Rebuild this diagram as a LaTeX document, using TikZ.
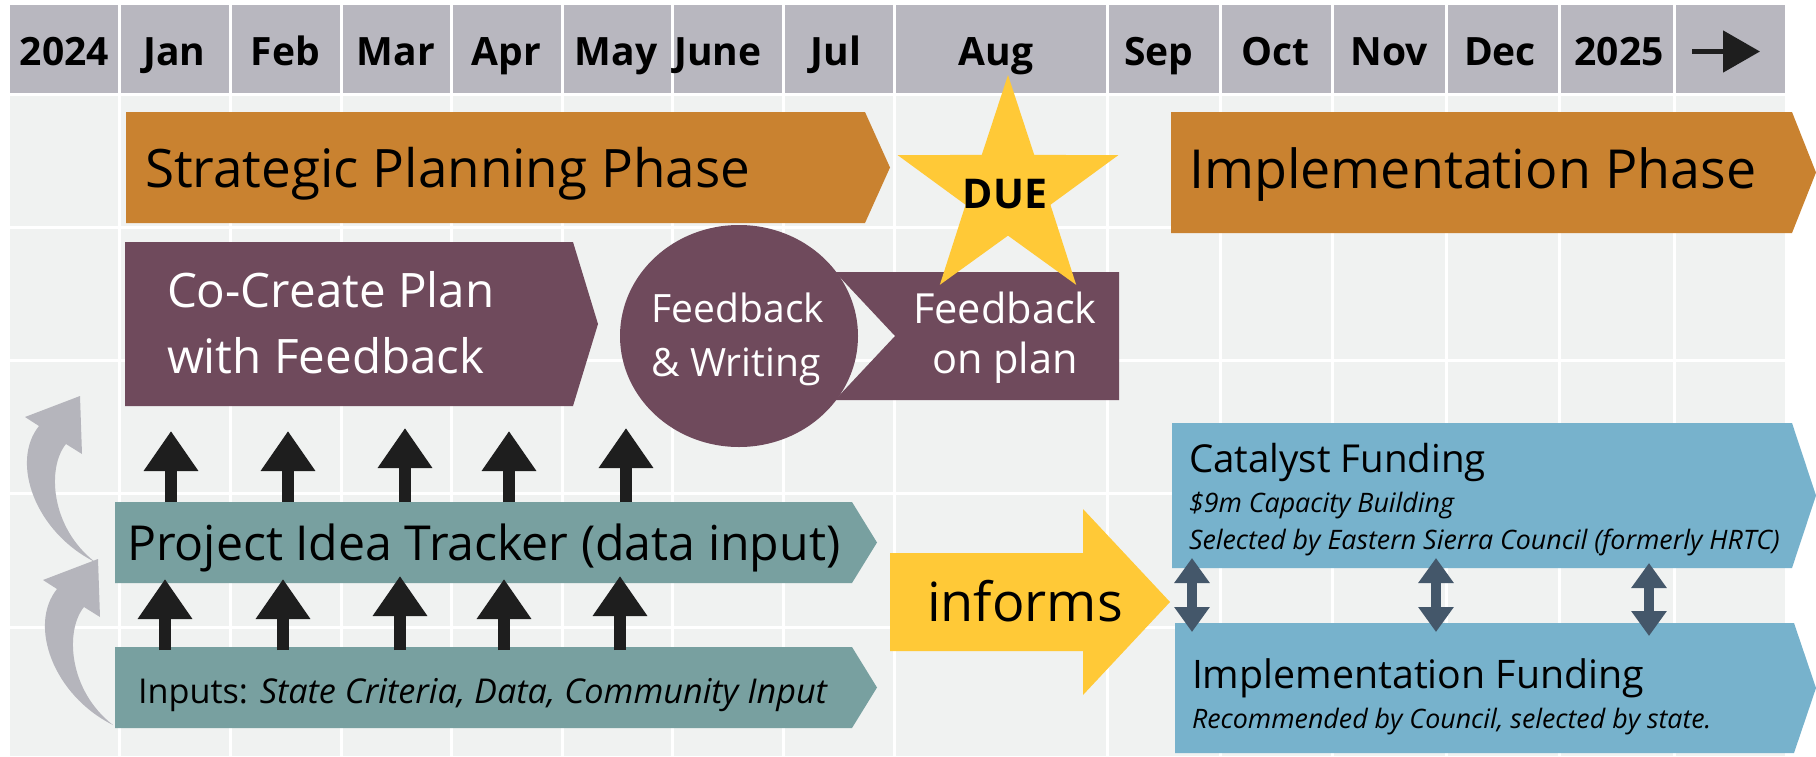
\documentclass[tikz,border=0pt]{standalone}
\usepackage{fontspec}
\setmainfont{Open Sans}
\usetikzlibrary{arrows.meta,shapes.geometric,calc}
\definecolor{gridc}{HTML}{F0F2F1}
\definecolor{headc}{HTML}{B8B7BF}
\definecolor{orangec}{HTML}{C98230}
\definecolor{purplec}{HTML}{6F4A5C}
\definecolor{tealc}{HTML}{78A0A0}
\definecolor{yellowc}{HTML}{FFC937}
\definecolor{bluec}{HTML}{77B2CC}
\definecolor{slatec}{HTML}{44576A}
\definecolor{grayc}{HTML}{B5B5BC}
\definecolor{blkc}{HTML}{1E1E1E}
\newcommand{\fs}[1]{\fontsize{#1}{#1}\selectfont}
\begin{document}
\begin{tikzpicture}[x=1pt,y=-1pt,
  lbl/.style={inner sep=0pt, outer sep=0pt, anchor=base west},
  hdr/.style={inner sep=0pt, anchor=base, font=\fs{39}\bfseries},
  boxn/.style={inner sep=0pt, outer sep=0pt, anchor=north west},
  uparr/.style={draw=blkc, line width=12pt, -{Triangle[width=52pt,length=40pt]}},
  dblarr/.style={draw=slatec, line width=10pt, {Triangle[width=34pt,length=25pt]}-{Triangle[width=34pt,length=25pt]}},
  curvy/.pic={\fill[grayc] (0,0) .. controls (-60,-30) and (-85,-100) .. (-56,-136) -- (-70,-145) -- (-15,-166) -- (-13,-108) -- (-29,-118) .. controls (-48,-95) and (-45,-35) .. (0,0) -- cycle;}
]
\useasboundingbox (0,0) rectangle (1816,756);
% grid background
\fill[gridc] (10,96) rectangle (1785,756);
\fill[headc] (10,5) rectangle (1785,93);
\foreach \x in {119,230,341,451,562,672,783,894,1107,1220,1332,1446,1559,1674}
  \draw[white, line width=3pt] (\x,5) -- (\x,756);
\foreach \y in {227,360,493,627}
  \draw[white, line width=3pt] (10,\y) -- (1785,\y);
% header labels
\node[hdr] (h2024) at (64.5,65) {2024};
\node[hdr] (hjan) at (174.5,65) {Jan};
\node[hdr] (hfeb) at (285.5,65) {Feb};
\node[hdr] (hmar) at (396,65) {Mar};
\node[hdr] (hapr) at (506.5,65) {Apr};
\node[hdr] (hmay) at (616,65) {May};
\node[hdr] (hjun) at (718,65) {June};
\node[hdr] (hjul) at (836,65) {Jul};
\node[hdr] (haug) at (996,65) {Aug};
\node[hdr] (hsep) at (1159,65) {Sep};
\node[hdr] (hoct) at (1275,65) {Oct};
\node[hdr] (hnov) at (1389,65) {Nov};
\node[hdr] (hdec) at (1500,65) {Dec};
\node[hdr] (h2025) at (1619,65) {2025};
\coordinate (harra) at (1692,51.5);
\coordinate (harrb) at (1760,51.5);
\draw[draw=blkc, line width=5pt, -{Triangle[width=41pt,length=37pt]}] (harra) -- (harrb);
% Strategic Planning Phase
\node[boxn, minimum width=739pt, minimum height=111pt] (spp) at (126,112) {};
\fill[orangec] (spp.north west) -- (spp.north east) -- ($(spp.east)+(25,0)$) -- (spp.south east) -- (spp.south west) -- cycle;
\node[lbl, font=\fs{53}] (sppt) at (145,187) {Strategic Planning Phase};
% Implementation Phase
\node[boxn, minimum width=621pt, minimum height=121pt] (ipp) at (1171,112) {};
\fill[orangec] (ipp.north west) -- (ipp.north east) -- ($(ipp.east)+(24,0)$) -- (ipp.south east) -- (ipp.south west) -- cycle;
\node[lbl, font=\fs{53.8}] (ippt) at (1189,188) {Implementation Phase};
% Co-Create
\node[boxn, minimum width=448pt, minimum height=164pt] (ccp) at (125,242) {};
\fill[purplec] (ccp.north west) -- (ccp.north east) -- ($(ccp.east)+(25,0)$) -- (ccp.south east) -- (ccp.south west) -- cycle;
\node[lbl, font=\fs{47.5}, text=white] (ccp1) at (167,307) {Co-Create Plan};
\node[lbl, font=\fs{47.5}, text=white] (ccp2) at (167,373) {with Feedback};
% Feedback on plan
\node[boxn, minimum width=284pt, minimum height=128pt] (fop) at (835,272) {};
\fill[purplec] (fop.north west) -- (fop.north east) -- (fop.south east) -- (fop.south west) -- ($(fop.west)+(60,0)$) -- cycle;
\node[inner sep=0pt, anchor=base, font=\fs{41.5}, text=white] (fop1) at (1005,323) {Feedback};
\node[inner sep=0pt, anchor=base, font=\fs{41.5}, text=white] (fop2) at (1005,373) {on plan};
% Feedback & Writing circle
\node[ellipse, fill=purplec, minimum width=238pt, minimum height=222pt, inner sep=0pt] (fw) at (739,336) {};
\node[inner sep=0pt, anchor=base, font=\fs{39}, text=white] (fw1) at (738,322) {Feedback};
\node[inner sep=0pt, anchor=base, font=\fs{39}, text=white] (fw2) at (736,376) {\& Writing};
% Star
\node[star, star points=5, star point ratio=2.6, minimum size=232pt, inner sep=0pt, fill=yellowc] (star) at (1008,191) {};
\node[inner sep=0pt, anchor=base, font=\fs{41}\bfseries] (due) at (1005,208) {DUE};
% Project Idea Tracker
\node[boxn, minimum width=737pt, minimum height=81pt] (pit) at (115,502) {};
\fill[tealc] (pit.north west) -- (pit.north east) -- ($(pit.east)+(25,0)$) -- (pit.south east) -- (pit.south west) -- cycle;
\node[lbl, font=\fs{48.2}] (pitt) at (127,560) {Project Idea Tracker (data input)};
% Inputs
\node[boxn, minimum width=737pt, minimum height=81pt] (inp) at (115,647) {};
\fill[tealc] (inp.north west) -- (inp.north east) -- ($(inp.east)+(25,0)$) -- (inp.south east) -- (inp.south west) -- cycle;
\node[lbl, font=\fs{34.2}] (inpt) at (138,703) {Inputs: \textit{State Criteria, Data, Community Input}};
% informs
\fill[yellowc] (890,553) -- (1083,553) -- (1083,509) -- (1170,602) -- (1083,695) -- (1083,651) -- (890,651) -- cycle;
\node[lbl, font=\fs{54}] (inf) at (927,621) {informs};
% Catalyst Funding
\node[boxn, minimum width=620pt, minimum height=145pt] (cat) at (1172,423) {};
\fill[bluec] (cat.north west) -- (cat.north east) -- ($(cat.east)+(24,0)$) -- (cat.south east) -- (cat.south west) -- cycle;
\node[lbl, font=\fs{38.5}] (cat1) at (1189,472) {Catalyst Funding};
\node[lbl, font=\fs{26.8}\itshape] (cat2) at (1189,512) {\$9m Capacity Building};
\node[lbl, font=\fs{26.8}\itshape] (cat3) at (1189,549) {Selected by Eastern Sierra Council (formerly HRTC)};
% Implementation Funding
\node[boxn, minimum width=619pt, minimum height=130pt] (imf) at (1175,623) {};
\fill[bluec] (imf.north west) -- (imf.north east) -- ($(imf.east)+(22,0)$) -- (imf.south east) -- (imf.south west) -- cycle;
\node[lbl, font=\fs{39.3}] (imf1) at (1192,688) {Implementation Funding};
\node[lbl, font=\fs{26.8}\itshape] (imf2) at (1192,728) {Recommended by Council, selected by state.};
% gray curved arrows
\pic at (95,562) {curvy};
\pic at (113,725) {curvy};
% black up arrows: tracker -> co-create
\foreach \i/\x/\t in {1/171/431, 2/288/431, 3/405/428, 4/509/431, 5/626/428} {
  \coordinate (ua\i) at (\x,502);
  \coordinate (ub\i) at (\x,\t);
  \draw[uparr] (ua\i) -- (ub\i);
}
% black up arrows: inputs -> tracker
\foreach \i/\x/\t in {1/165/579, 2/283/579, 3/400/576, 4/504/579, 5/620/576} {
  \coordinate (la\i) at (\x,650);
  \coordinate (lb\i) at (\x,\t);
  \draw[uparr] (la\i) -- (lb\i);
}
% double arrows between funding boxes
\foreach \i/\x/\a/\b in {1/1192/558/632, 2/1436/558/632, 3/1649/563/636} {
  \coordinate (da\i) at (\x,\a);
  \coordinate (db\i) at (\x,\b);
  \draw[dblarr] (da\i) -- (db\i);
}
\end{tikzpicture}
\end{document}
